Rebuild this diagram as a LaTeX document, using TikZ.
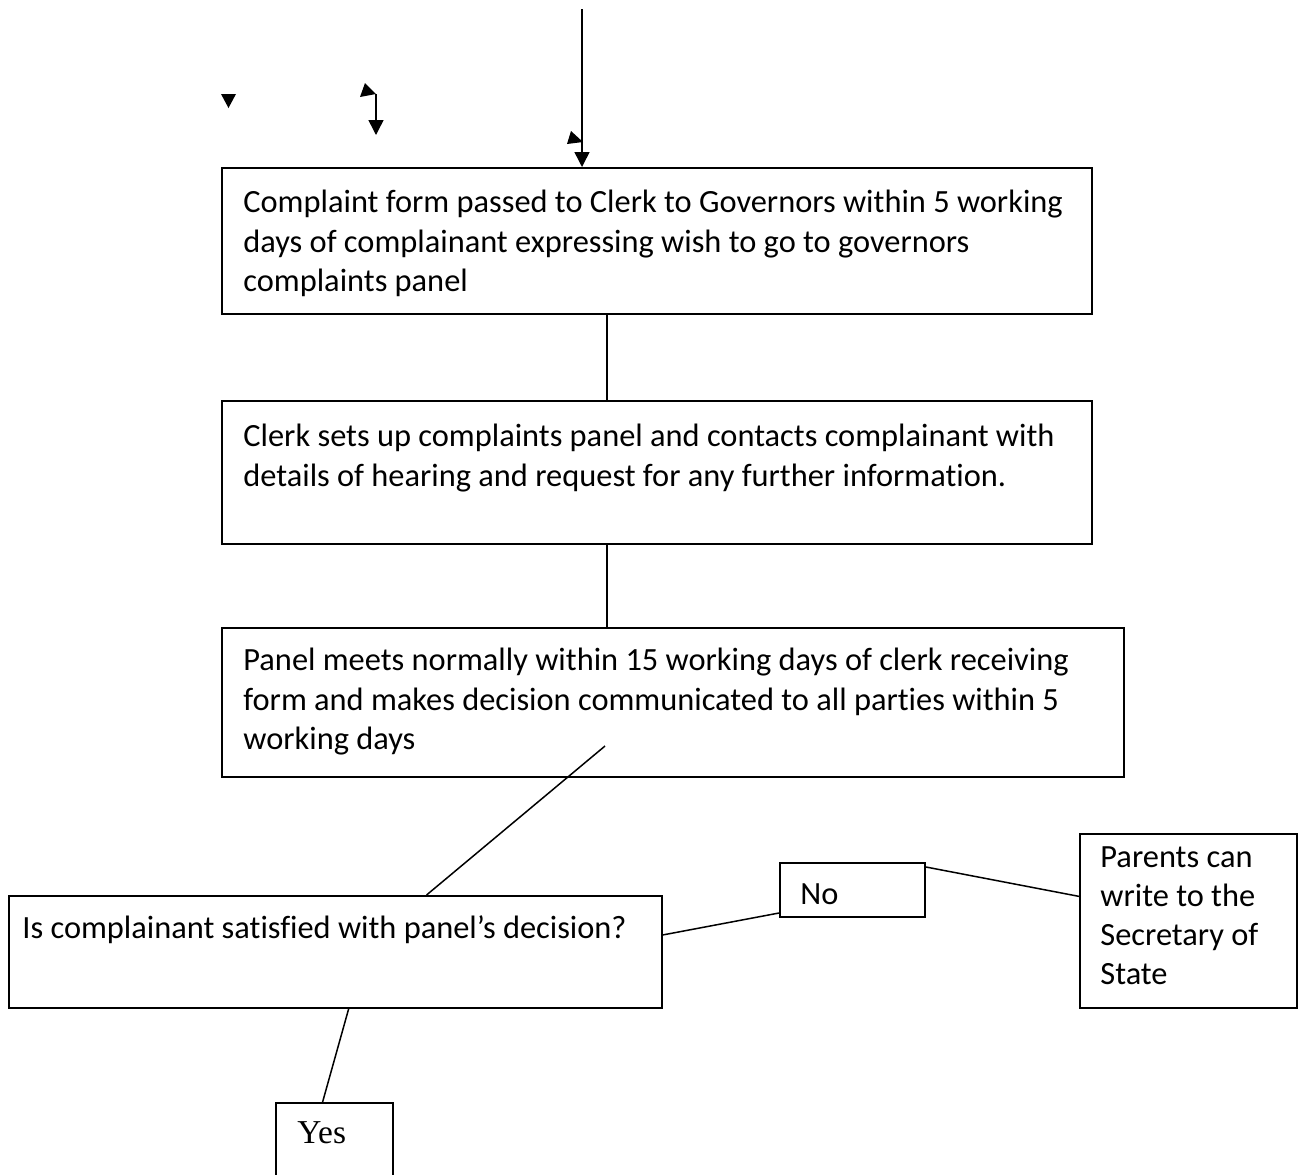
\documentclass[tikz,border=0pt]{standalone}
\usepackage{fontspec}
\setmainfont{Carlito}[Ligatures=NoCommon]
\newfontfamily\yesfont{Liberation Serif}
\usetikzlibrary{arrows.meta, positioning, calc}

\begin{document}
\begin{tikzpicture}[x=0.5pt, y=-0.5pt, >={Triangle[length=7.5pt, width=7.5pt]},
  stagebox/.style={draw, line width=1pt, inner sep=0pt},
  stagetext/.style={anchor=north west, align=left, inner sep=0pt, font=\fontsize{16.2}{19.6}\selectfont},
  link/.style={line width=0.75pt}]
  \clip (0,0) rectangle (1306,1174);
  % boxes (centre in px, size in pt)
  \node[stagebox, minimum width=435pt, minimum height=73pt] (formbox) at (657,241) {};
  \node[stagebox, minimum width=435pt, minimum height=71.5pt] (clerkbox) at (657,472.5) {};
  \node[stagebox, minimum width=451pt, minimum height=74.5pt] (meetbox) at (673,702.5) {};
  \node[stagebox, minimum width=326.5pt, minimum height=56pt] (askbox) at (335.5,952) {};
  \node[stagebox, minimum width=72.5pt, minimum height=27pt] (nobox) at (852.5,890) {};
  \node[stagebox, minimum width=108.5pt, minimum height=87pt] (parentsbox) at (1188.5,921) {};
  \node[stagebox, minimum width=58.5pt, minimum height=45pt] (yesbox) at (334.5,1148) {};
  % texts
  \node[stagetext] (formtxt) at (243,190) {Complaint form passed to Clerk to Governors within 5 working\\days of complainant expressing wish to go to governors\\complaints panel};
  \node[stagetext] (clerktxt) at (243,424) {Clerk sets up complaints panel and contacts complainant with\\details of hearing and request for any further information.};
  \node[stagetext] (meettxt) at (243,648) {Panel meets normally within 15 working days of clerk receiving\\form and makes decision communicated to all parties within 5\\working days};
  \node[stagetext] (asktxt) at (22,915) {Is complainant satisfied with panel’s decision?};
  \node[stagetext] (notxt) at (800,883) {No};
  \node[stagetext] (parentstxt) at (1100,846) {Parents can\\write to the\\Secretary of\\State};
  \node[stagetext, font=\yesfont\fontsize{16.7}{19}\selectfont] (yestxt) at (297,1121) {Yes};
  % connectors
  \coordinate (spine) at (607,0);
  \coordinate (feed) at (582,9);
  \coordinate (decide) at (605,746);
  \draw[link, ->] (feed) -- (formbox.north -| feed);
  \draw[link] (formbox.south -| spine) -- (clerkbox.north -| spine);
  \draw[link] (clerkbox.south -| spine) -- (meetbox.north -| spine);
  \draw[link] (decide) -- ($(askbox.north west)!0.639!(askbox.north east)$);
  \draw[link] ($(askbox.north east)!0.35!(askbox.south east)$) -- ($(nobox.south west)+(0,-5)$);
  \draw[link] ($(nobox.north east)+(0,5)$) -- ($(parentsbox.north west)!0.36!(parentsbox.south west)$);
  \draw[link] ($(askbox.south west)!0.52!(askbox.south east)$) -- ($(yesbox.north west)!0.4!(yesbox.north east)$);
  % stray arrow heads
  \fill (221,94) -- (236,94) -- (228.5,108) -- cycle;
  \fill (360,97) -- (365,83) -- (376,94) -- cycle;
  \draw[link, ->] (376,94) -- (376,135);
  \fill (567,144) -- (571,131) -- (583,142) -- cycle;
\end{tikzpicture}
\end{document}
